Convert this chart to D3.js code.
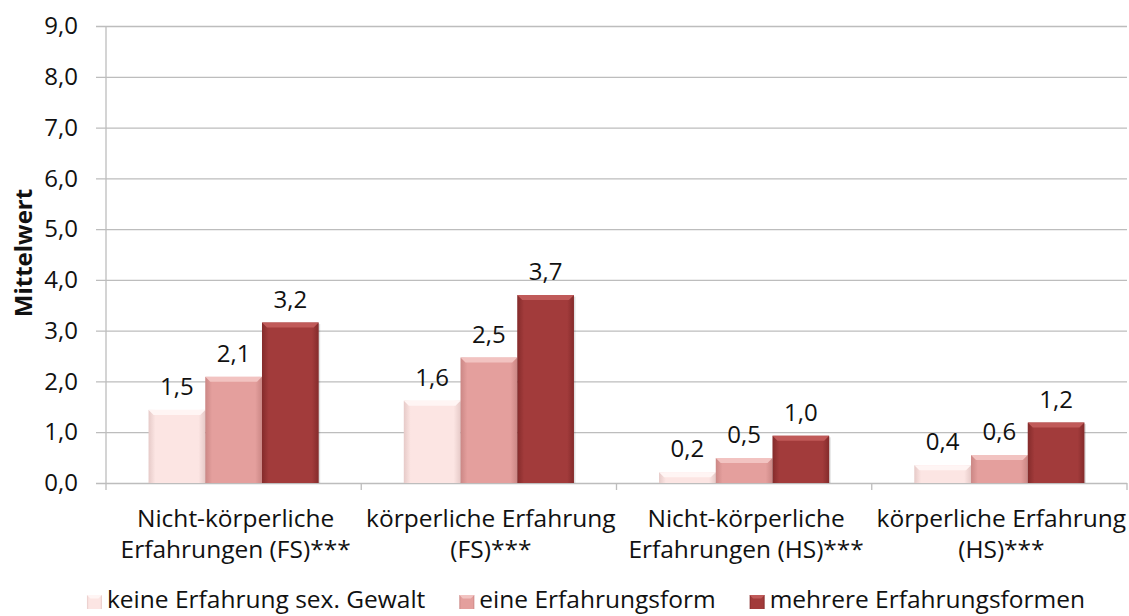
<!DOCTYPE html>
<html><head><meta charset="utf-8">
<script src="https://cdn.jsdelivr.net/npm/d3@7"></script>
<style>
html,body{margin:0;padding:0;background:#fff;}
svg{display:block;font-family:"Open Sans",sans-serif;}
</style></head>
<body>
<svg id="chart" width="1129" height="616"></svg>
<script>
const categories = [
  ["Nicht-körperliche","Erfahrungen (FS)***"],
  ["körperliche Erfahrung","(FS)***"],
  ["Nicht-körperliche","Erfahrungen (HS)***"],
  ["körperliche Erfahrung","(HS)***"]
];
const seriesNames = ["keine Erfahrung sex. Gewalt","eine Erfahrungsform","mehrere Erfahrungsformen"];
const keineValues   = [1.44, 1.62, 0.21, 0.35];
const eineValues    = [2.09, 2.47, 0.49, 0.55];
const mehrereValues = [3.16, 3.70, 0.93, 1.19];
const keineLabels   = ["1,5","1,6","0,2","0,4"];
const eineLabels    = ["2,1","2,5","0,5","0,6"];
const mehrereLabels = ["3,2","3,7","1,0","1,2"];
const yTicks = [0,1,2,3,4,5,6,7,8,9];
const yTitle = "Mittelwert";

const seriesValues = [keineValues, eineValues, mehrereValues];
const seriesLabels = [keineLabels, eineLabels, mehrereLabels];
const colors = [
  {main:"#FCE5E3", edge:"#E6CAC8", top:"#FFF5F4"},
  {main:"#E49F9D", edge:"#CB8785", top:"#F2C3C1"},
  {main:"#A23B3B", edge:"#842B2B", top:"#C05A59"}
];

const svg = d3.select("#chart");
const defs = svg.append("defs");
colors.forEach((c,i)=>{
  const g = defs.append("linearGradient").attr("id","grad"+i).attr("x1","0").attr("x2","1").attr("y1","0").attr("y2","0");
  g.append("stop").attr("offset","0").attr("stop-color",c.edge);
  g.append("stop").attr("offset","0.12").attr("stop-color",c.main);
  g.append("stop").attr("offset","0.88").attr("stop-color",c.main);
  g.append("stop").attr("offset","1").attr("stop-color",c.edge);
});

const mLeft = 106, mRight = 1127, mTop = 26, mBottom = 483;
const catKeys = categories.map((d,i)=>i);
const x0 = d3.scaleBand().domain(catKeys).range([mLeft,mRight]).paddingInner(0).paddingOuter(0);
const x1 = d3.scaleBand().domain([0,1,2]).range([0,x0.bandwidth()]).paddingInner(0).paddingOuter(0.75);
const y = d3.scaleLinear().domain([0,9]).range([mBottom,mTop]);

// gridlines
const yAxis = d3.axisLeft(y).tickValues(yTicks).tickSize(-(mRight-mLeft)).tickFormat(d=>d3.format(".1f")(d).replace(".",","));
const ga = svg.append("g").attr("transform",`translate(${mLeft},0)`).call(yAxis);
ga.select(".domain").remove();
ga.selectAll(".tick line").attr("stroke","#BDBDBD").attr("stroke-width",1.3).attr("x1",-10);
ga.selectAll(".tick text").attr("x",-28).attr("font-size",24).attr("fill","#111").attr("font-family","Open Sans");

// vertical axis line
svg.append("line").attr("x1",mLeft).attr("x2",mLeft).attr("y1",mTop).attr("y2",mBottom+7).attr("stroke","#BDBDBD").attr("stroke-width",1.3);
// category separators
catKeys.forEach(i=>{
  const xx = x0(i)+x0.bandwidth();
  svg.append("line").attr("x1",xx).attr("x2",xx).attr("y1",mBottom).attr("y2",mBottom+7).attr("stroke","#BDBDBD").attr("stroke-width",1.3);
});

// bars
const bars = svg.append("g");
catKeys.forEach(ci=>{
  seriesValues.forEach((vals,si)=>{
    const bx = x0(ci)+x1(si), bw = x1.bandwidth();
    const by = y(vals[ci]), bh = mBottom - by;
    const c = colors[si];
    bars.append("rect").attr("x",bx+1.5).attr("y",by+1.5).attr("width",bw).attr("height",bh-1.5).attr("fill","#000").attr("opacity",0.12);
    bars.append("rect").attr("x",bx).attr("y",by).attr("width",bw).attr("height",bh).attr("fill",`url(#grad${si})`);
    const bev = Math.min(5, bh/2);
    bars.append("path").attr("d",`M${bx},${by}L${bx+bw},${by}L${bx+bw-bev},${by+bev}L${bx+bev},${by+bev}Z`).attr("fill",c.top);
    svg.append("text").attr("x",bx+bw/2).attr("y",by-15).attr("text-anchor","middle")
      .attr("font-size",24).attr("fill","#111").text(seriesLabels[si][ci]);
  });
});

// category labels
categories.forEach((lines,ci)=>{
  const cx = x0(ci)+x0.bandwidth()/2 + 2;
  lines.forEach((t,li)=>{
    svg.append("text").attr("x",cx).attr("y",527+li*31).attr("text-anchor","middle").attr("font-size",24.5).attr("fill","#111").text(t);
  });
});

// y title
svg.append("text").attr("transform",`translate(32,253) rotate(-90)`).attr("text-anchor","middle")
  .attr("font-size",24).attr("font-weight","bold").attr("fill","#111").text(yTitle);

// legend
const lg = svg.append("g");
const items = [];
seriesNames.forEach((n,i)=>{
  const g = lg.append("g");
  g.append("rect").attr("x",0).attr("y",-13).attr("width",15).attr("height",14).attr("fill",`url(#grad${i})`);
  g.append("path").attr("d","M0,-13L15,-13L11.5,-9.5L3.5,-9.5Z").attr("fill",colors[i].top);
  const t = g.append("text").attr("x",20).attr("y",0).attr("font-size",24.5).attr("fill","#111").text(n);
  const w = 20 + t.node().getComputedTextLength();
  items.push({g,w});
});
const gap = 34;
const total = d3.sum(items,d=>d.w) + gap*(items.length-1);
let sx = 586 - total/2;
items.forEach(it=>{ it.g.attr("transform",`translate(${sx},608)`); sx += it.w + gap; });
</script>
</body></html>
